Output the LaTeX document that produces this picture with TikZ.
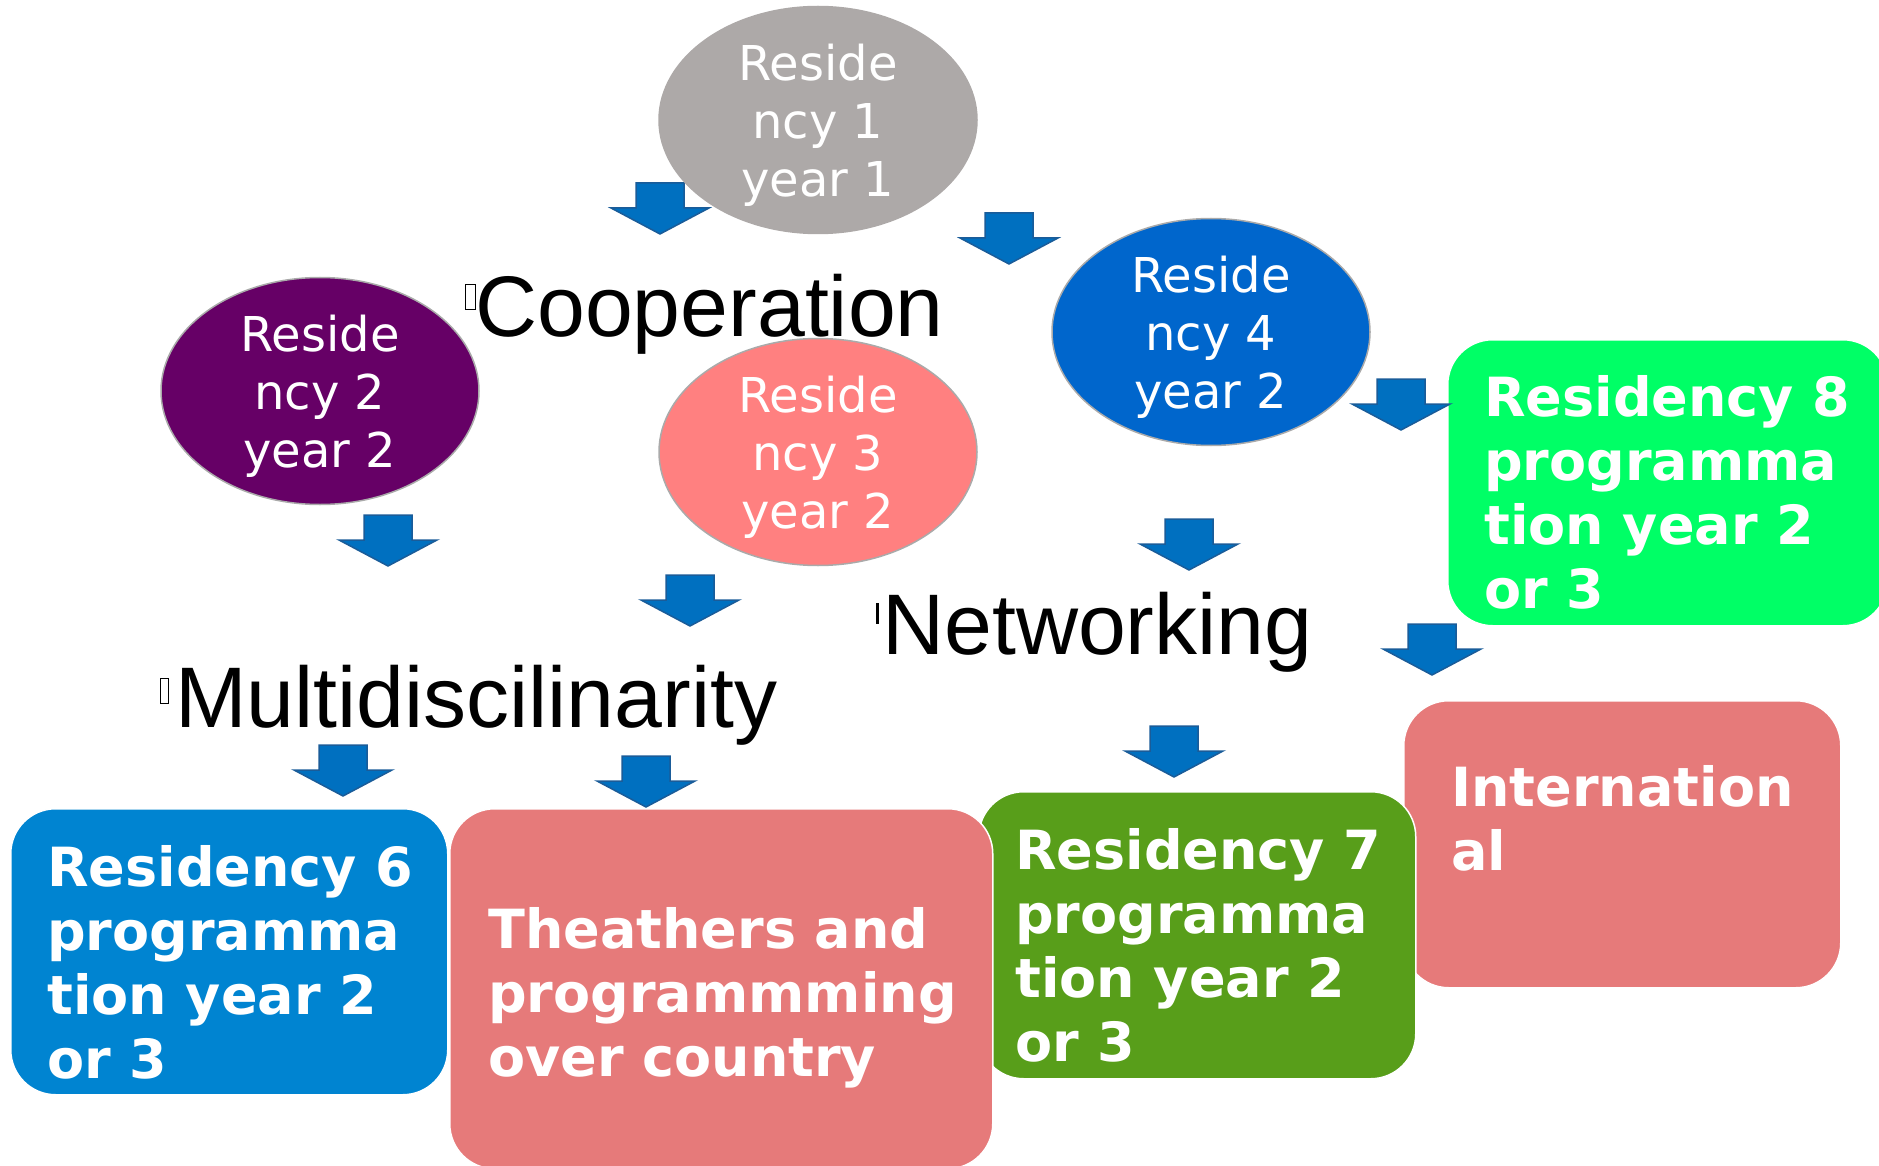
\documentclass[tikz,border=0pt]{standalone}
\usepackage{fontspec}
\setmainfont{DejaVu Sans}
\newfontfamily\bigfont{Liberation Sans}
\usetikzlibrary{shapes.geometric}
\definecolor{resgray}{RGB}{173,169,168}
\definecolor{respurple}{RGB}{102,0,102}
\definecolor{respink}{RGB}{255,128,128}
\definecolor{resblue}{RGB}{0,102,204}
\definecolor{ellborder}{RGB}{170,170,170}
\definecolor{boxgreen}{RGB}{0,255,102}
\definecolor{boxblue}{RGB}{0,132,209}
\definecolor{boxrose}{RGB}{230,122,122}
\definecolor{boxolive}{RGB}{88,158,26}
\definecolor{arrfill}{RGB}{0,112,192}
\definecolor{arrline}{RGB}{26,92,153}
\tikzset{
  resell/.style={ellipse, draw=ellborder, line width=1.5pt, minimum width=318pt, minimum height=227pt,
    inner sep=0pt, text=white, align=center, font=\fontsize{48}{58}\selectfont, text depth=0pt},
  resbox/.style={rectangle, rounded corners=45pt, draw=white, line width=1.5pt, inner sep=0pt, anchor=north west},
  boxtext/.style={anchor=north west, inner sep=0pt, text=white, align=left, font=\bfseries\fontsize{54}{64}\selectfont},
  bigtext/.style={anchor=base west, inner sep=0pt, font=\bigfont\fontsize{86}{100}\selectfont},
  arrowstyle/.style={fill=arrfill, draw=arrline, line width=1.5pt, line join=miter},
  blockarrow/.pic={\filldraw[arrowstyle] (-24,0) -- (24,0) -- (24,25) -- (49,25) -- (0,51) -- (-49,25) -- (-24,25) -- cycle;}
}
\begin{document}
\begin{tikzpicture}[x=1pt,y=-1pt]
\useasboundingbox (0,0) rectangle (1879,1166);
% arrow hidden behind residency 1
\pic (a1) at (660,183) {blockarrow};
% ellipses
\node[resell, fill=resgray, draw=resgray] (r1) at (818,120) {Reside\\ncy 1\\year 1};
\node[resell, fill=respurple] (r2) at (320,391) {Reside\\ncy 2\\year 2};
\node[resell, fill=respink] (r3) at (818,452) {Reside\\ncy 3\\year 2};
\node[resell, fill=resblue] (r4) at (1211,332) {Reside\\ncy 4\\year 2};
% big labels
\node[bigtext] (coop) at (475,336) {Cooperation};
\node[bigtext] (multi) at (175,727) {Multidiscilinarity};
\node[bigtext] (net) at (882,654) {Networking};
\draw[line width=0.8pt] (465,284) rectangle (475,309);
\draw[line width=0.8pt] (160,678) rectangle (168,703);
\fill (876,603) rectangle (879,624);
% boxes
\node[resbox, fill=boxgreen, minimum width=440pt, minimum height=286pt] (b8) at (1447,339) {};
\node[resbox, fill=boxrose, minimum width=437pt, minimum height=287pt] (bint) at (1403,700) {};
\node[resbox, fill=boxolive, minimum width=437pt, minimum height=287pt] (b7) at (978,791) {};
\node[resbox, fill=boxblue, minimum width=437pt, minimum height=286pt] (b6) at (10,808) {};
\node[resbox, fill=boxrose, minimum width=543pt, minimum height=360pt] (bth) at (449,808) {};
\node[boxtext] (t8) at (1484,375) {Residency 8\\programma\\tion year 2\\or 3};
\node[boxtext] (tint) at (1451,765) {Internation\\al};
\node[boxtext] (t7) at (1015,828) {Residency 7\\programma\\tion year 2\\or 3};
\node[boxtext] (t6) at (47,845) {Residency 6\\programma\\tion year 2\\or 3};
\node[boxtext] (tth) at (488,907) {Theathers and\\programmming\\over country};
% arrows
\pic (a2) at (1009,213) {blockarrow};
\pic (a3) at (388,515) {blockarrow};
\pic (a4) at (690,575) {blockarrow};
\pic (a5) at (1189,519) {blockarrow};
\pic (a6) at (1401,379) {blockarrow};
\pic (a7) at (1432,624) {blockarrow};
\pic (a8) at (1174,726) {blockarrow};
\pic (a9) at (343,745) {blockarrow};
\pic (a10) at (646,756) {blockarrow};
\end{tikzpicture}
\end{document}
